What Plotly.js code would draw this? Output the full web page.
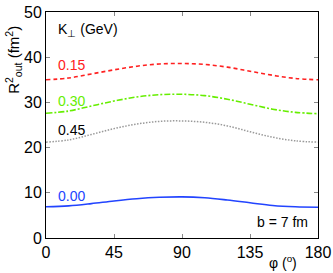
<!DOCTYPE html>
<html><head><meta charset="utf-8">
<script src="https://cdn.plot.ly/plotly-3.0.1.min.js"></script>
<style>body{margin:0;padding:0;background:#fff}#c{width:333px;height:273px}</style>
</head><body><div id="c"></div>
<script>
const phi = [0,15,30,45,60,75,90,105,120,135,150,165,180];
const r015 = [35.0,35.4,36.3,37.2,38.0,38.5,38.6,38.4,37.8,36.9,36.0,35.3,35.0];
const r030 = [27.6,28.1,29.2,30.3,31.2,31.7,31.8,31.5,30.7,29.6,28.5,27.8,27.5];
const r045 = [21.2,21.7,22.9,24.2,25.2,25.8,25.9,25.6,24.8,23.5,22.3,21.5,21.2];
const r000 = [6.9,7.1,7.6,8.2,8.7,9.0,9.1,8.9,8.4,7.8,7.2,6.9,6.8];
const xticks = [0,45,90,135,180];
const yticks = [0,10,20,30,40,50];

const F = "Liberation Sans, Arial, sans-serif";
const traces = [
 {x:phi,y:r015,mode:'lines',line:{color:'#ff2020',dash:'4px,3px',width:1.6,shape:'spline'}},
 {x:phi,y:r030,mode:'lines',line:{color:'#66ee00',dash:'6px,2px,2px,2px',width:1.6,shape:'spline'}},
 {x:phi,y:r045,mode:'lines',line:{color:'#999999',dash:'1.5px,1.5px',width:1.5,shape:'spline'}},
 {x:phi,y:r000,mode:'lines',line:{color:'#2244ff',dash:'solid',width:1.6,shape:'spline'}}
];
const ann = (x,y,t,c)=>({xref:'paper',yref:'paper',x:x,y:y,text:t,showarrow:false,xanchor:'left',yanchor:'middle',font:{family:F,size:14,color:c}});
const layout = {
 width:333,height:273,margin:{l:46,r:15,t:12,b:35},
 paper_bgcolor:'#fff',plot_bgcolor:'#fff',showlegend:false,
 font:{family:F,size:14,color:'#000'},
 xaxis:{range:[0,180],tickvals:xticks,ticktext:xticks.map(String),ticks:'inside',ticklen:4,tickcolor:'#888',
   showline:true,linecolor:'#000',linewidth:1,mirror:'ticks',showgrid:false,zeroline:false,
   tickfont:{family:F,size:16,color:'#000'}},
 yaxis:{range:[0,50],tickvals:yticks,ticktext:yticks.map(String),ticks:'inside',ticklen:4,tickcolor:'#888',
   showline:true,linecolor:'#000',linewidth:1,mirror:'ticks',showgrid:false,zeroline:false,
   tickfont:{family:F,size:16,color:'#000'}},
 annotations:[
  ann(0.035,0.92,'K<sub>⊥</sub> (GeV)','#000'),
  ann(0.035,0.765,'0.15','#ff2020'),
  ann(0.035,0.606,'0.30','#66ee00'),
  ann(0.035,0.478,'0.45','#000'),
  ann(0.035,0.186,'0.00','#2244ff'),
  {xref:'paper',yref:'paper',x:0.97,y:0.07,text:'b = 7 fm',showarrow:false,xanchor:'right',yanchor:'middle',font:{family:F,size:14,color:'#000'}},
  {xref:'paper',yref:'paper',x:0.87,y:-0.105,text:'φ (<sup>o</sup>)',showarrow:false,xanchor:'center',yanchor:'middle',font:{family:F,size:14,color:'#000'}},
  {xref:'paper',yref:'paper',x:-0.12,y:0.79,text:'R<sup>2</sup><sub>out</sub> (fm<sup>2</sup>)',textangle:-90,showarrow:false,xanchor:'center',yanchor:'middle',font:{family:F,size:15,color:'#000'}}
 ]
};
Plotly.newPlot('c',traces,layout,{staticPlot:true,displayModeBar:false});
</script></body></html>
